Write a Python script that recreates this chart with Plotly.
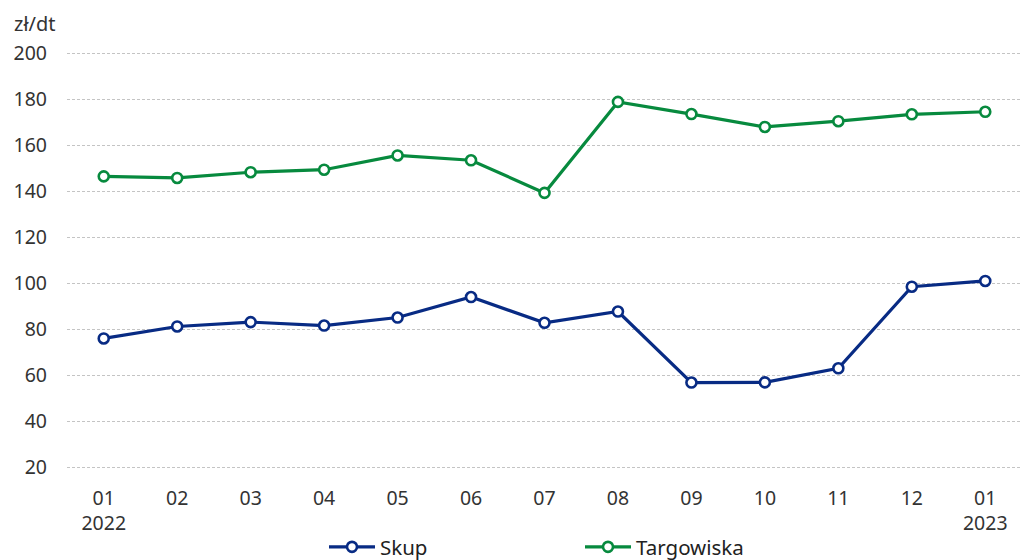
import plotly.graph_objects as go

months = ["01", "02", "03", "04", "05", "06", "07", "08", "09", "10", "11", "12", "01 "]
month_labels = ["01<br>2022", "02", "03", "04", "05", "06", "07", "08", "09", "10", "11", "12", "01<br>2023"]
skup = [76, 81.2, 83.1, 81.6, 85.1, 94, 82.8, 87.7, 56.8, 56.9, 63, 98.5, 101]
targowiska = [146.5, 145.8, 148.3, 149.4, 155.6, 153.5, 139.3, 178.9, 173.6, 168.0, 170.5, 173.5, 174.6]

NAVY = "#082b84"
GREEN = "#078a3e"

fig = go.Figure()
for name, vals, col in [("Skup", skup, NAVY), ("Targowiska", targowiska, GREEN)]:
    fig.add_trace(go.Scatter(
        x=months, y=vals, name=name, mode="lines+markers",
        line=dict(color=col, width=3.2),
        marker=dict(symbol="circle", size=10, color="white", line=dict(color=col, width=2.6)),
    ))

fig.update_layout(
    width=1022, height=560,
    margin=dict(l=67, r=0, t=52, b=91),
    plot_bgcolor="white", paper_bgcolor="white",
    font=dict(family="Noto Sans", size=19.5, color="#333333"),
    showlegend=True,
    legend=dict(orientation="h", xref="container", yref="container",
                x=324 / 1022, xanchor="left", y=13 / 560, yanchor="middle",
                itemwidth=46, entrywidth=195, entrywidthmode="pixels",
                font=dict(size=20.5, color="#222222")),
    annotations=[dict(text="zł/dt", xref="paper", yref="paper", x=-0.058, y=1.03,
                      xanchor="left", yanchor="bottom", showarrow=False,
                      font=dict(size=20, color="#333333"))],
)
fig.update_xaxes(type="category", tickvals=months, ticktext=month_labels, automargin=False,
                 showgrid=False, showline=False, ticks="", range=[-0.5, 12.5],
                 ticklabelstandoff=15)
fig.update_yaxes(range=[19.2, 200.6], dtick=20, showgrid=True, gridcolor="#c4c4c4", automargin=False,
                 griddash="3px,2px", gridwidth=1, zeroline=False, showline=False, ticks="",
                 ticklabelstandoff=19)

fig.write_html("out.html", config={"displayModeBar": False},
               post_script="document.body.style.margin='0';")
